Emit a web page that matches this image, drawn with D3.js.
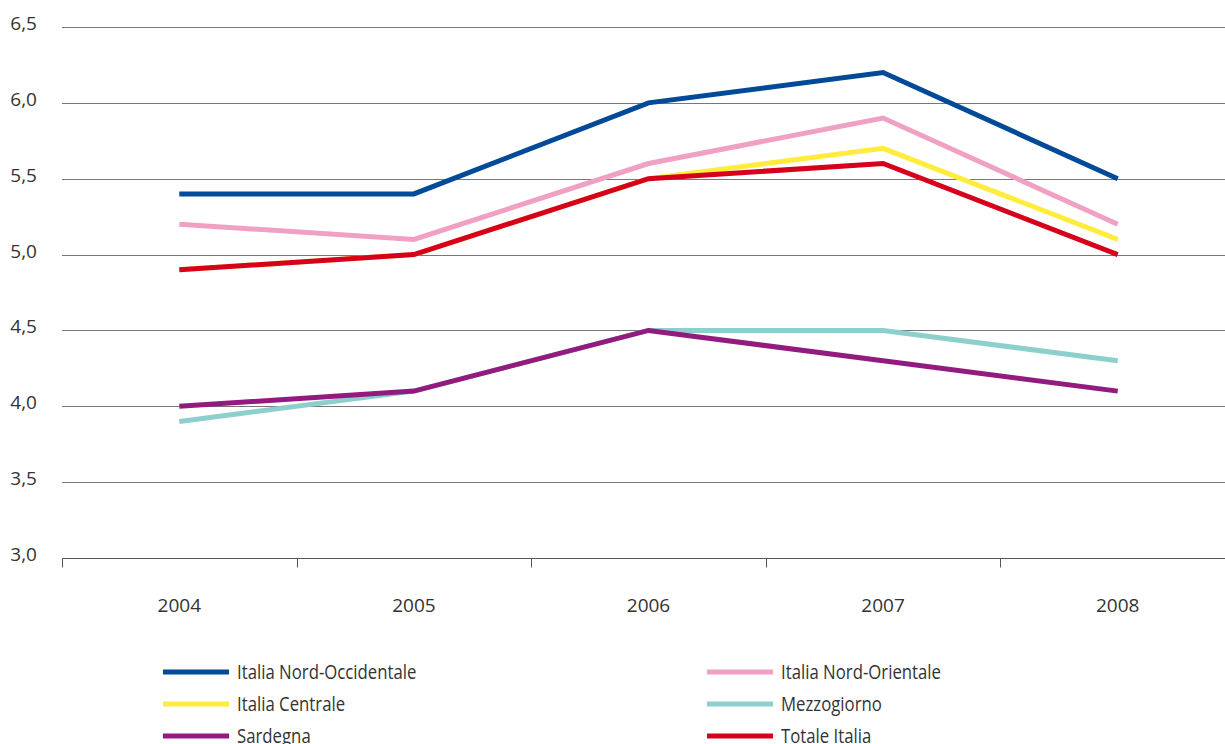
<!DOCTYPE html>
<html>
<head>
<meta charset="utf-8">
<script src="https://cdn.jsdelivr.net/npm/d3@7"></script>
<style>
  body { margin: 0; background: #fff; }
  svg text { font-family: "Open Sans", sans-serif; fill: #333; }
</style>
</head>
<body>
<div id="chart"></div>
<script>
// years and series
const years = ["2004", "2005", "2006", "2007", "2008"];
const seriesNames = ["Italia Nord-Occidentale", "Italia Nord-Orientale", "Italia Centrale",
    "Mezzogiorno", "Sardegna", "Totale Italia"];
const seriesColors = ["#004a97", "#f0a0c2", "#ffec3c", "#8dcfcc", "#931a7e", "#d6001c"];
const nordOcc = [5.4, 5.4, 6.0, 6.2, 5.5];
const nordOr = [5.2, 5.1, 5.6, 5.9, 5.2];
const centrale = [4.9, 5.0, 5.5, 5.7, 5.1];
const mezzogiorno = [3.9, 4.1, 4.5, 4.5, 4.3];
const sardegna = [4.0, 4.1, 4.5, 4.3, 4.1];
const totale = [4.9, 5.0, 5.5, 5.6, 5.0];
const yTicks = [3.0, 3.5, 4.0, 4.5, 5.0, 5.5, 6.0, 6.5];

const allValues = [nordOcc, nordOr, centrale, mezzogiorno, sardegna, totale];

const width = 1225, height = 744;

const svg = d3.select("#chart")
    .append("svg")
    .attr("width", width)
    .attr("height", height);

const x = d3.scaleBand()
    .domain(years)
    .range([62, 1235]);

const y = d3.scaleLinear()
    .domain([3, 6.5])
    .range([558, 27]);

const fmt = d => d3.format(".1f")(d).replace(".", ",");

// gridlines
svg.append("g")
    .selectAll("line")
    .data(yTicks.slice(1))
    .join("line")
    .attr("x1", 62)
    .attr("x2", width)
    .attr("y1", d => Math.round(y(d)) + 0.5)
    .attr("y2", d => Math.round(y(d)) + 0.5)
    .attr("stroke", "#777")
    .attr("stroke-width", 1.2);

// y labels
svg.append("g")
    .selectAll("text")
    .data(yTicks)
    .join("text")
    .attr("x", 37)
    .attr("y", d => y(d) + 3)
    .attr("text-anchor", "end")
    .attr("font-size", 19)
    .text(fmt);

// x axis
const xAxis = d3.axisBottom(x).tickSize(0).tickPadding(40);
const gx = svg.append("g")
    .attr("transform", `translate(0,${Math.round(y(3)) + 0.5})`)
    .call(xAxis);
gx.select(".domain").attr("stroke", "#555").attr("stroke-width", 1.2)
    .attr("d", `M62,0H${width}`);
gx.selectAll("text").attr("font-size", 19).attr("font-family", "Open Sans, sans-serif").attr("fill", "#333");

// tick marks at band boundaries
gx.append("g")
    .selectAll("line")
    .data(years.slice())
    .join("line")
    .attr("x1", d => Math.round(x(d)) + 0.5)
    .attr("x2", d => Math.round(x(d)) + 0.5)
    .attr("y1", 0)
    .attr("y2", 9)
    .attr("stroke", "#555");

// lines
const line = d3.line()
    .x((d, i) => x(years[i]) + x.bandwidth() / 2)
    .y(d => y(d));

svg.append("g")
    .selectAll("path")
    .data(allValues)
    .join("path")
    .attr("d", line)
    .attr("fill", "none")
    .attr("stroke", (d, i) => seriesColors[i])
    .attr("stroke-width", 5);

// legend, two columns
const legend = svg.append("g")
    .selectAll("g")
    .data(seriesNames)
    .join("g")
    .attr("transform", (d, i) => `translate(${i % 2 === 0 ? 163 : 707},${672 + Math.floor(i / 2) * 32})`);

legend.append("line")
    .attr("x1", 0).attr("x2", 66)
    .attr("stroke", (d, i) => seriesColors[i])
    .attr("stroke-width", 5);

// condensed look of the original face
legend.append("text")
    .attr("transform", "translate(74,7) scale(0.86,1)")
    .attr("font-size", 19.5)
    .text(d => d);
</script>
</body>
</html>
